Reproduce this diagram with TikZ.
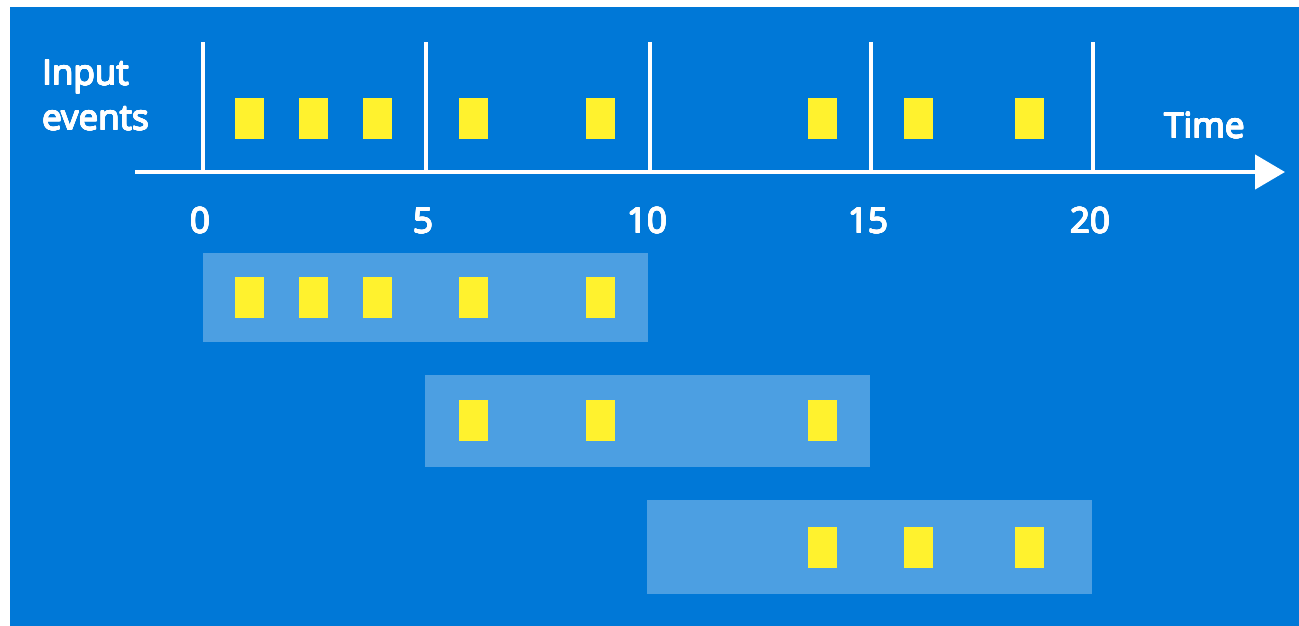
\documentclass[tikz,border=0pt]{standalone}
\usepackage{fontspec}
\setmainfont{Open Sans}
\usepackage{contour}
\contourlength{0.6pt}
\contournumber{16}
\usetikzlibrary{arrows.meta}
\definecolor{bg}{HTML}{0078D7}
\definecolor{winbox}{HTML}{4C9FE2}
\definecolor{evt}{HTML}{FFF22E}
\newcommand{\thk}[1]{\contour{white}{#1}}
\begin{document}
\begin{tikzpicture}[x=1pt,y=-1pt,
  ev/.style={fill=evt, minimum width=29pt, minimum height=41pt, inner sep=0pt, draw=none},
  win/.style={fill=winbox, inner sep=0pt, anchor=north west, minimum width=445pt},
  lbl/.style={text=white, inner sep=0pt, font=\fontsize{35}{45}\selectfont},
  tickline/.style={draw=white, line width=4.5pt},
  axis/.style={draw=white, line width=4.5pt, -{Triangle[length=30pt,width=34pt]}}]
\useasboundingbox (0,0) rectangle (1299,626);
\fill[white] (0,0) rectangle (1299,626);
\fill[bg] (10,7) rectangle (1299,626);
% windows
\node[win, minimum height=89pt] (w1) at (203,253) {};
\node[win, minimum height=92pt] (w2) at (425,375) {};
\node[win, minimum height=94pt] (w3) at (647,500) {};
% ticks
\foreach \n/\x/\t in {t0/203/0, t5/426/5, t10/650/10, t15/871/15, t20/1093/20}{
  \coordinate (\n top) at (\x,42);
  \coordinate (\n bot) at (\x,172);
  \draw[tickline] (\n top) -- (\n bot);
  \node[lbl, anchor=base] (\n lab) at ([xshift=-3pt]\x,233) {\thk{\t}};
}
% axis
\coordinate (axstart) at (135,172);
\coordinate (axend) at (1285,172);
\draw[axis] (axstart) -- (axend);
% labels
\node[lbl, align=left, anchor=north west] (inlab) at (42,60) {\thk{Input}\\\thk{events}};
\node[lbl, anchor=base west] (timelab) at (1164,138) {\thk{Time}};
% input events
\foreach \n/\x in {1/249, 2/313, 3/377, 4/473, 5/600, 6/822, 7/918, 8/1029}{
  \node[ev] (e\n) at (\x,118) {};
}
% window 1 events
\foreach \n/\x in {1/249, 2/313, 3/377, 4/473, 5/600}{
  \node[ev] (a\n) at (\x,297) {};
}
% window 2 events
\foreach \n/\x in {1/473, 2/600, 3/822}{
  \node[ev] (b\n) at (\x,420) {};
}
% window 3 events
\foreach \n/\x in {1/822, 2/918, 3/1029}{
  \node[ev] (c\n) at (\x,547) {};
}
\end{tikzpicture}
\end{document}
